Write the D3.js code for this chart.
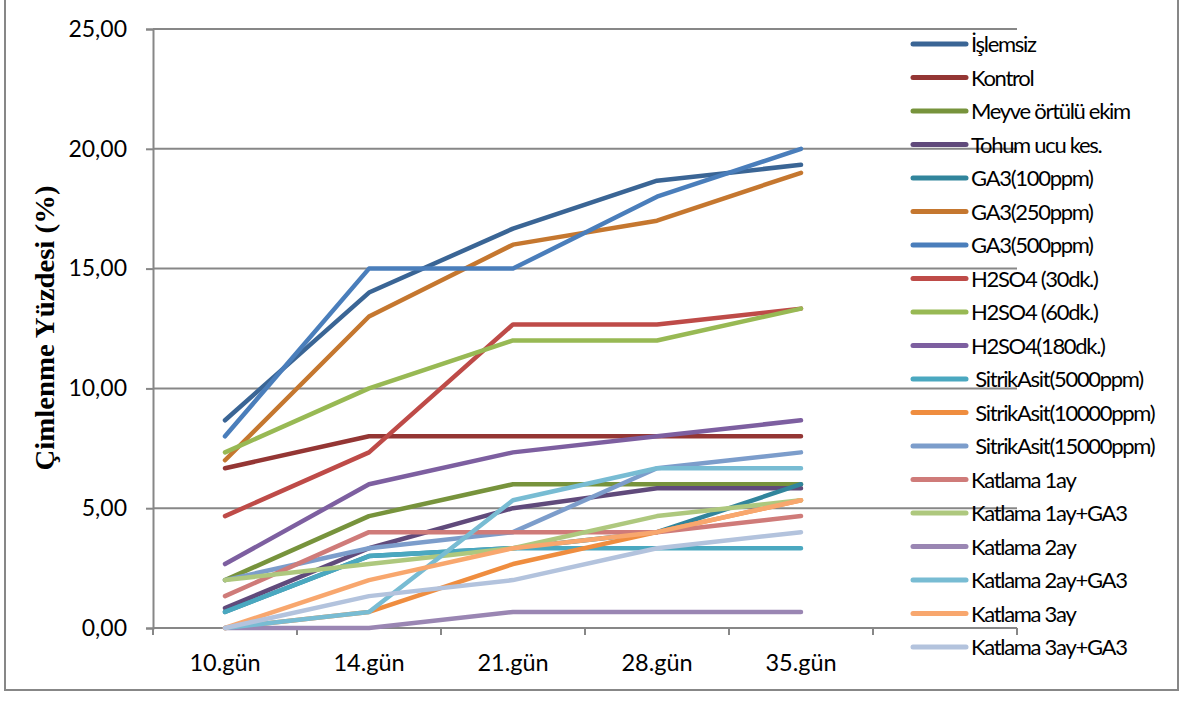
<!DOCTYPE html>
<html>
<head>
<meta charset="utf-8">
<script src="https://cdn.jsdelivr.net/npm/d3@7/dist/d3.min.js"></script>
<style>
  html, body { margin: 0; padding: 0; background: #fff; }
  svg { display: block; }
  .legend text { white-space: pre; }
</style>
</head>
<body>
<svg id="chart" width="1185" height="702"></svg>
<script>
// Germination percentage (%) by day for each seed treatment
const days = ["10.gün", "14.gün", "21.gün", "28.gün", "35.gün", ""];
const yTicks = [0, 5, 10, 15, 20, 25];

const islemsiz      = [8.67, 14.00, 16.67, 18.67, 19.33];
const kontrol       = [6.67, 8.00, 8.00, 8.00, 8.00];
const meyveOrtulu   = [2.00, 4.67, 6.00, 6.00, 6.00];
const tohumUcu      = [0.83, 3.33, 5.00, 5.83, 5.83];
const ga3_100       = [0.67, 3.00, 3.33, 4.00, 6.00];
const ga3_250       = [7.00, 13.00, 16.00, 17.00, 19.00];
const ga3_500       = [8.00, 15.00, 15.00, 18.00, 20.00];
const h2so4_30      = [4.67, 7.33, 12.67, 12.67, 13.33];
const h2so4_60      = [7.33, 10.00, 12.00, 12.00, 13.33];
const h2so4_180     = [2.67, 6.00, 7.33, 8.00, 8.67];
const sitrik_5000   = [0.67, 3.00, 3.33, 3.33, 3.33];
const sitrik_10000  = [0.00, 0.67, 2.67, 4.00, 5.33];
const sitrik_15000  = [2.00, 3.33, 4.00, 6.67, 7.33];
const katlama1      = [1.33, 4.00, 4.00, 4.00, 4.67];
const katlama1GA3   = [2.00, 2.67, 3.33, 4.67, 5.33];
const katlama2      = [0.00, 0.00, 0.67, 0.67, 0.67];
const katlama2GA3   = [0.00, 0.67, 5.33, 6.67, 6.67];
const katlama3      = [0.00, 2.00, 3.33, 4.00, 5.33];
const katlama3GA3   = [0.00, 1.33, 2.00, 3.33, 4.00];

const seriesNames = [
  "İşlemsiz", "Kontrol", "Meyve örtülü ekim", "Tohum ucu kes.",
  "GA3(100ppm)", "GA3(250ppm)", "GA3(500ppm)",
  "H2SO4 (30dk.)", "H2SO4 (60dk.)", "H2SO4(180dk.)",
  " SitrikAsit(5000ppm)", " SitrikAsit(10000ppm)", " SitrikAsit(15000ppm)",
  "Katlama 1ay", "Katlama 1ay+GA3", "Katlama 2ay", "Katlama 2ay+GA3",
  "Katlama 3ay", "Katlama 3ay+GA3"
];
const seriesValues = [
  islemsiz, kontrol, meyveOrtulu, tohumUcu, ga3_100, ga3_250, ga3_500,
  h2so4_30, h2so4_60, h2so4_180, sitrik_5000, sitrik_10000, sitrik_15000,
  katlama1, katlama1GA3, katlama2, katlama2GA3, katlama3, katlama3GA3
];
const seriesColors = [
  "#3a6595", "#943634", "#77933c", "#604a7b", "#31859c", "#c5772f", "#4a7ebb",
  "#be4b48", "#98b954", "#7d5fa0", "#4aa8c0", "#ef8d3f", "#7c9dcb",
  "#cf7b79", "#aec87e", "#9a86b3", "#78bcd3", "#f8a76e", "#b3c3dd"
];

const svg = d3.select("#chart");
const gray = "#878787";

// Plot frame
const plotLeft = 153, plotRight = 1017, plotTop = 29, plotBottom = 628;

const x = d3.scaleBand().domain(days).range([plotLeft, plotRight]).padding(0);
const y = d3.scaleLinear().domain([0, 25]).range([plotBottom, plotTop]);
const cx = d => x(d) + x.bandwidth() / 2;

// Outer chart border
svg.append("rect")
  .attr("x", 5).attr("y", -4).attr("width", 1173).attr("height", 694)
  .attr("fill", "none").attr("stroke", gray).attr("stroke-width", 2);

// Horizontal gridlines
svg.append("g").selectAll("line").data(yTicks.filter(t => t > 0)).join("line")
  .attr("x1", plotLeft).attr("x2", plotRight)
  .attr("y1", d => y(d)).attr("y2", d => y(d))
  .attr("stroke", gray).attr("stroke-width", 2);

// Y axis with outward ticks
const fmt = d => d3.format(".2f")(d).replace(".", ",");
const yAxis = svg.append("g").attr("transform", `translate(${plotLeft},0)`)
  .call(d3.axisLeft(y).tickValues(yTicks).tickFormat(fmt).tickSize(7).tickPadding(19));
yAxis.select(".domain").attr("stroke", gray).attr("stroke-width", 2);
yAxis.selectAll(".tick line").attr("stroke", gray).attr("stroke-width", 2);
yAxis.selectAll(".tick text")
  .attr("font-family", "Lato, 'Open Sans', sans-serif")
  .attr("font-size", 23).attr("fill", "#000");

// X axis baseline, tick marks between categories, labels at centres
svg.append("line")
  .attr("x1", plotLeft).attr("x2", plotRight).attr("y1", plotBottom).attr("y2", plotBottom)
  .attr("stroke", gray).attr("stroke-width", 2);
const edges = days.map(d => x(d)).concat([plotRight]);
svg.append("g").selectAll("line").data(edges).join("line")
  .attr("x1", d => d).attr("x2", d => d)
  .attr("y1", plotBottom).attr("y2", plotBottom + 7)
  .attr("stroke", gray).attr("stroke-width", 2);
svg.append("g").selectAll("text").data(days.filter(d => d)).join("text")
  .attr("x", d => cx(d)).attr("y", 671)
  .attr("text-anchor", "middle")
  .attr("font-family", "Lato, 'Open Sans', sans-serif")
  .attr("font-size", 23.5).attr("fill", "#000")
  .text(d => d);

// Y axis title
svg.append("text")
  .attr("transform", "translate(54,328) rotate(-90)")
  .attr("text-anchor", "middle")
  .attr("font-family", "'Liberation Serif', 'Times New Roman', serif")
  .attr("font-weight", "bold").attr("font-size", 27)
  .attr("textLength", 285).attr("lengthAdjust", "spacingAndGlyphs")
  .attr("fill", "#000")
  .text("Çimlenme Yüzdesi (%)");

// Series lines
const line = d3.line()
  .x((v, i) => cx(days[i]))
  .y(v => y(v));
svg.append("g").selectAll("path").data(seriesValues).join("path")
  .attr("d", d => line(d))
  .attr("fill", "none")
  .attr("stroke", (d, i) => seriesColors[i])
  .attr("stroke-width", 4.5)
  .attr("stroke-linejoin", "round")
  .attr("stroke-linecap", "round");

// Legend
const legend = svg.append("g").attr("class", "legend");
const rowY = i => 44 + i * 33.5;
legend.selectAll("line").data(seriesNames).join("line")
  .attr("x1", 913).attr("x2", 966)
  .attr("y1", (d, i) => rowY(i)).attr("y2", (d, i) => rowY(i))
  .attr("stroke", (d, i) => seriesColors[i])
  .attr("stroke-width", 5).attr("stroke-linecap", "round");
legend.selectAll("text").data(seriesNames).join("text")
  .attr("x", 971).attr("y", (d, i) => rowY(i) + 8)
  .attr("font-family", "Lato, 'Open Sans', sans-serif")
  .attr("font-size", 22).attr("letter-spacing", -1.3)
  .attr("fill", "#000")
  .text(d => d);
</script>
</body>
</html>
